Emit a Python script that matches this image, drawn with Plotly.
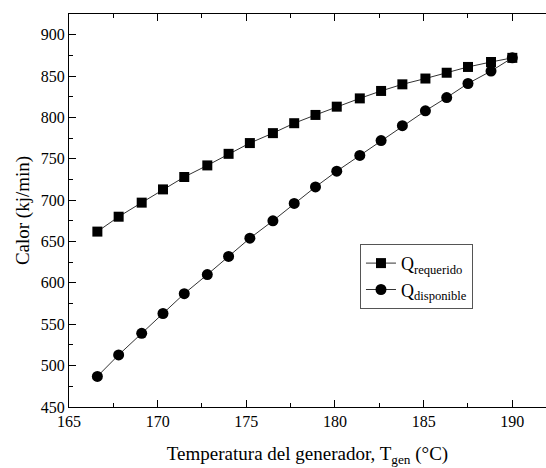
import plotly.graph_objects as go

temperatura = [166.6, 167.8, 169.1, 170.3, 171.5, 172.8, 174.0, 175.2, 176.5, 177.7,
               178.9, 180.1, 181.4, 182.6, 183.8, 185.1, 186.3, 187.5, 188.8, 190.0]
q_requerido = [662, 680, 697, 713, 728, 742, 756, 769, 781, 793,
               803, 813, 823, 832, 840, 847, 854, 861, 867, 872]
q_disponible = [487, 513, 539, 563, 587, 610, 632, 654, 675, 696,
                716, 735, 754, 772, 790, 808, 824, 841, 856, 872]

font_family = "Liberation Serif"

fig = go.Figure()
fig.add_trace(go.Scatter(
    x=temperatura, y=q_requerido, mode="lines+markers",
    name="Q<sub>requerido</sub>",
    line=dict(color="#333333", width=1),
    marker=dict(symbol="square", size=10, color="black"),
))
fig.add_trace(go.Scatter(
    x=temperatura, y=q_disponible, mode="lines+markers",
    name="Q<sub>disponible</sub>",
    line=dict(color="#333333", width=1),
    marker=dict(symbol="circle", size=11, color="black"),
))

axis_common = dict(
    showgrid=False, zeroline=False, showline=True, linecolor="black", linewidth=1.3,
    ticks="inside", ticklen=7, tickwidth=1.2, tickcolor="black", automargin=False,
    tickfont=dict(family=font_family, size=16, color="black"),
)

fig.update_xaxes(
    **axis_common,
    range=[165, 191.9], tick0=165, dtick=5, mirror="ticks",
    minor=dict(ticks="inside", ticklen=4, tickwidth=1.2, tickcolor="black", dtick=2.5),
    title=dict(text="Temperatura del generador, T<sub>gen</sub> (°C)",
               font=dict(family=font_family, size=19, color="black"), standoff=17),
)
fig.update_yaxes(
    **axis_common,
    range=[450, 925], tick0=450, dtick=50,
    minor=dict(ticks="inside", ticklen=4, tickwidth=1.2, tickcolor="black", dtick=25),
    title=dict(text="Calor (kj/min)",
               font=dict(family=font_family, size=19, color="black"), standoff=6),
)

fig.update_layout(
    width=546, height=468,
    margin=dict(l=69, r=0, t=14, b=61),
    paper_bgcolor="white", plot_bgcolor="white",
    font=dict(family=font_family, color="black"),
    legend=dict(
        x=0.61, y=0.415, xanchor="left", yanchor="top",
        bgcolor="white", bordercolor="#555555", borderwidth=1,
        font=dict(family=font_family, size=18, color="black"),
        tracegroupgap=0, itemwidth=30,
    ),
    showlegend=True,
)

fig.write_html("out.html", config={"displayModeBar": False},
               post_script="document.body.style.margin='0';document.body.style.overflow='hidden';")
